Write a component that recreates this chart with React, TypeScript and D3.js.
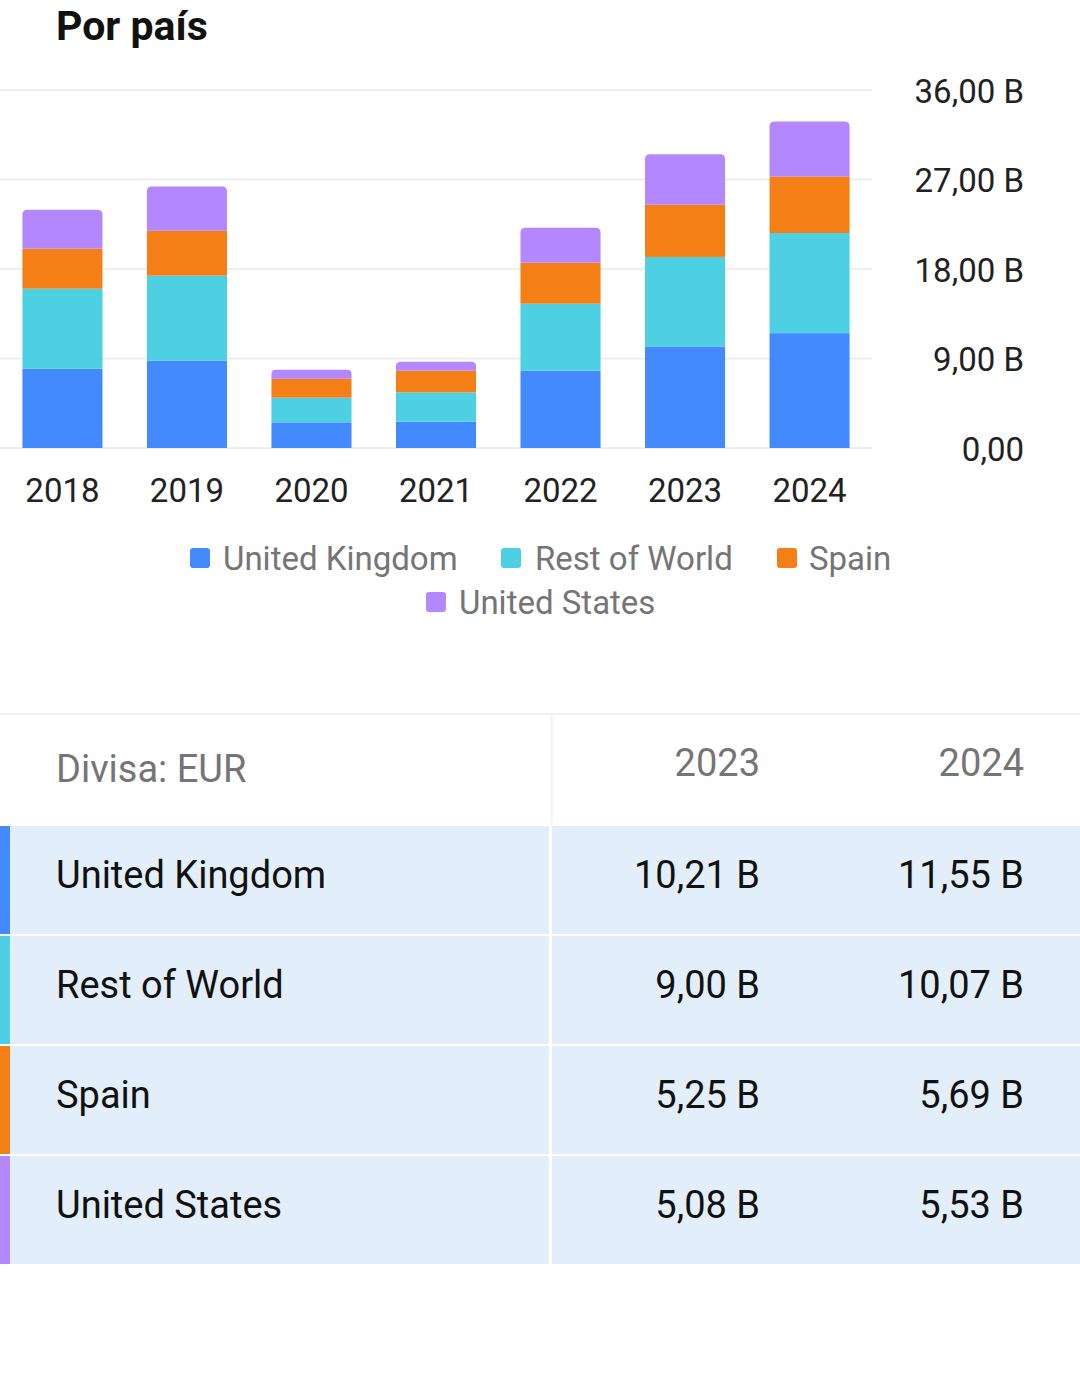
import React, { useEffect } from 'react';
import * as d3 from 'd3';

// chart data (B EUR)
const years = ['2018', '2019', '2020', '2021', '2022', '2023', '2024'];
const seriesNames = ['United Kingdom', 'Rest of World', 'Spain', 'United States'];
const seriesColors = ['#448AFF', '#4DD0E1', '#F57F17', '#B388FF'];
const unitedKingdom = [7.97, 8.78, 2.58, 2.64, 7.78, 10.21, 11.55];
const restOfWorld = [8.05, 8.55, 2.48, 2.95, 6.73, 9.0, 10.07];
const spain = [4.02, 4.52, 1.91, 2.18, 4.12, 5.25, 5.69];
const unitedStates = [3.93, 4.44, 0.9, 0.91, 3.52, 5.08, 5.53];
const yTicks = [0, 9, 18, 27, 36];

// table
const tableYears = ['2023', '2024'];
const tableValues = [
  ['10,21 B', '11,55 B'],
  ['9,00 B', '10,07 B'],
  ['5,25 B', '5,69 B'],
  ['5,08 B', '5,53 B'],
];

const W = 1080;
const H = 1387;
const FONT = 'Roboto, "Noto Sans", sans-serif';

const fmt = (v: number) => (v === 0 ? '0,00' : v.toFixed(2).replace('.', ',') + ' B');

// rect with rounded top corners only
const topRounded = (x: number, y: number, w: number, h: number, r: number) => {
  const rr = Math.min(r, h / 2);
  return `M${x},${y + h}V${y + rr}Q${x},${y} ${x + rr},${y}H${x + w - rr}Q${x + w},${y} ${x + w},${y + rr}V${y + h}Z`;
};

const App: React.FC = () => {
  useEffect(() => {
    document.body.style.margin = '0';
  }, []);

  const x = d3.scaleBand().domain(years).range([0, 872]).paddingInner(0.357).paddingOuter(0.18);
  const y = d3.scaleLinear().domain([0, 36]).range([448, 90]);

  const rows = years.map((yr, i) => ({
    year: yr,
    'United Kingdom': unitedKingdom[i],
    'Rest of World': restOfWorld[i],
    Spain: spain[i],
    'United States': unitedStates[i],
  }));
  const stacked = d3.stack<any>().keys(seriesNames)(rows);

  // legend layout
  const legendRow1 = [
    { name: 'United Kingdom', color: seriesColors[0], sx: 190, tx: 223 },
    { name: 'Rest of World', color: seriesColors[1], sx: 501, tx: 535 },
    { name: 'Spain', color: seriesColors[2], sx: 777, tx: 809 },
  ];
  const legendRow2 = [{ name: 'United States', color: seriesColors[3], sx: 426, tx: 459 }];

  const rowTop = 826;
  const rowH = 108;
  const rowGap = 2;

  return (
    <svg width={W} height={H} style={{ display: 'block', fontFamily: FONT }}>
      <rect width={W} height={H} fill="#fff" />
      <text x={56} y={40} fontSize={41} fontWeight={700} fill="#111">Por país</text>

      {/* gridlines */}
      {yTicks.map(t => (
        <line key={t} x1={0} x2={872} y1={y(t)} y2={y(t)} stroke="#eeeeee" strokeWidth={2} />
      ))}

      {/* bars */}
      {stacked.map((s, si) => (
        <g key={s.key} fill={seriesColors[si]}>
          {s.map((d, i) => {
            const x0 = x(years[i])!;
            const y0 = y(d[1]);
            const h = y(d[0]) - y(d[1]);
            return si === seriesNames.length - 1 ? (
              <path key={i} d={topRounded(x0, y0, x.bandwidth(), h, 5)} />
            ) : (
              <rect key={i} x={x0} y={y0} width={x.bandwidth()} height={h} />
            );
          })}
        </g>
      ))}

      {/* y axis labels */}
      {yTicks.map(t => (
        <text key={t} x={1024} y={y(t) + 1} dy="0.35em" textAnchor="end" fontSize={33} fill="#222">
          {fmt(t)}
        </text>
      ))}

      {/* x axis labels */}
      {years.map(yr => (
        <text key={yr} x={x(yr)! + x.bandwidth() / 2} y={490} dy="0.35em" textAnchor="middle" fontSize={33} fill="#222">
          {yr}
        </text>
      ))}

      {/* legend */}
      {[...legendRow1.map(l => ({ ...l, cy: 558 })), ...legendRow2.map(l => ({ ...l, cy: 602 }))].map(l => (
        <g key={l.name}>
          <rect x={l.sx} y={l.cy - 10} width={20} height={20} rx={3} fill={l.color} />
          <text x={l.tx} y={l.cy} dy="0.35em" fontSize={33} fill="#757575">{l.name}</text>
        </g>
      ))}

      {/* table */}
      <line x1={0} x2={W} y1={714} y2={714} stroke="#f0f0f0" strokeWidth={2} />
      <rect x={550} y={715} width={3} height={111} fill="#f6f6f6" />
      <text x={56} y={769} dy="0.35em" fontSize={38} fill="#757575">Divisa: EUR</text>
      {tableYears.map((yr, i) => (
        <text key={yr} x={i === 0 ? 760 : 1024} y={763} dy="0.35em" textAnchor="end" fontSize={38} fill="#757575">
          {yr}
        </text>
      ))}
      {seriesNames.map((name, i) => {
        const top = rowTop + i * (rowH + rowGap);
        const cy = top + rowH / 2 - 5;
        return (
          <g key={name}>
            <rect x={0} y={top} width={549} height={rowH} fill="#E3EEFB" />
            <rect x={552} y={top} width={W - 552} height={rowH} fill="#E3EEFB" />
            <rect x={0} y={top} width={10} height={rowH} fill={seriesColors[i]} />
            <text x={56} y={cy} dy="0.35em" fontSize={38} fill="#111">{name}</text>
            {tableValues[i].map((v, j) => (
              <text key={j} x={j === 0 ? 760 : 1024} y={cy} dy="0.35em" textAnchor="end" fontSize={38} fill="#111">
                {v}
              </text>
            ))}
          </g>
        );
      })}
    </svg>
  );
};

export default App;
